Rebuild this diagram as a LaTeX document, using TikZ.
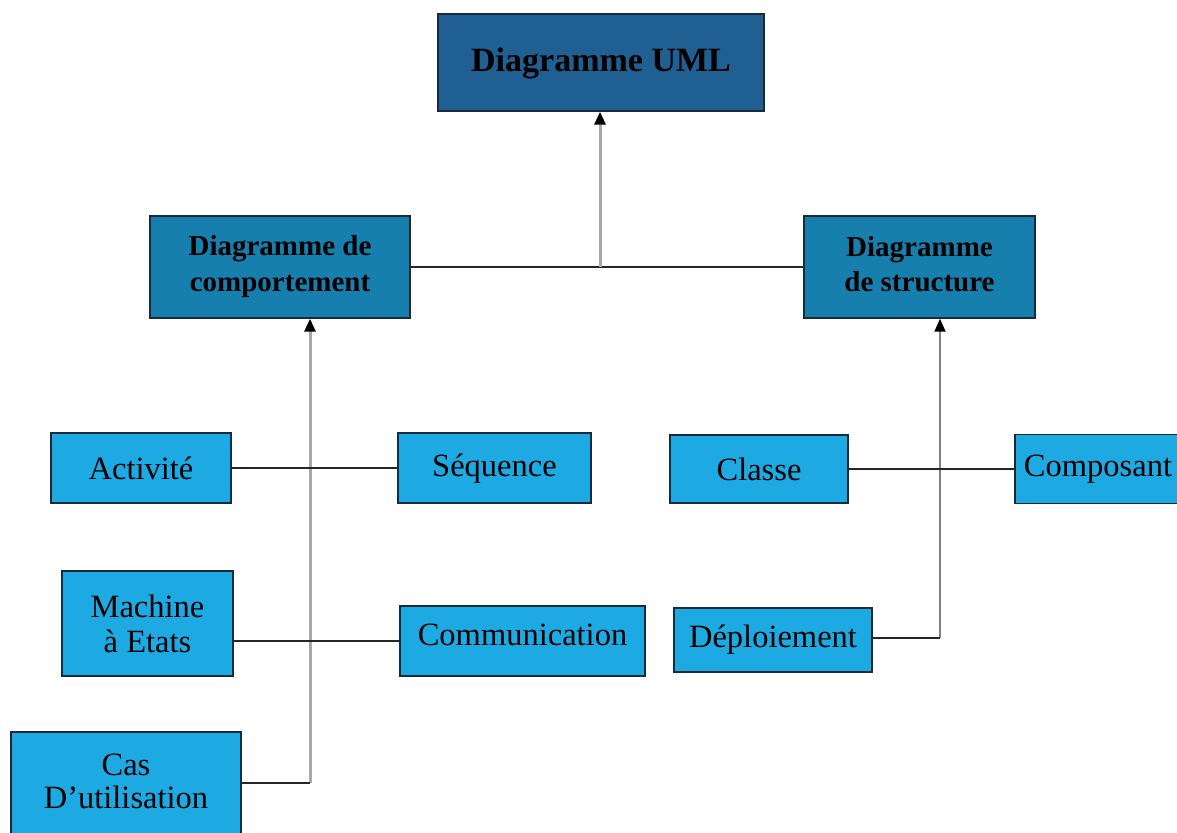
\documentclass[tikz,border=0pt]{standalone}
\usepackage{fontspec}
\setmainfont{Liberation Serif}
\usetikzlibrary{arrows.meta}

\definecolor{umldark}{RGB}{31,95,146}
\definecolor{umlmid}{RGB}{23,127,174}
\definecolor{umllight}{RGB}{29,170,226}
\definecolor{umlborder}{RGB}{26,42,58}
\definecolor{trunkgray}{RGB}{168,168,168}
\definecolor{trunkdark}{RGB}{130,130,130}

\tikzset{
  box/.style={draw=umlborder, line width=1.4pt, rectangle, align=center,
    inner sep=0pt, text=black},
  topbox/.style={box, fill=umldark, font=\fontsize{34}{38}\selectfont\bfseries},
  midbox/.style={box, fill=umlmid, font=\fontsize{29}{36}\selectfont\bfseries},
  leafbox/.style={box, fill=umllight, font=\fontsize{32.5}{35}\selectfont},
  link/.style={draw=black!85, line width=1.3pt},
  uparrow/.style={draw=trunkgray, line width=3pt,
    -{Triangle[width=11pt,length=13pt,color=black]}},
  uparrowthin/.style={draw=trunkdark, line width=1.8pt,
    -{Triangle[width=11pt,length=13pt,color=black]}},
}

\begin{document}
\begin{tikzpicture}[x=1pt,y=-1pt]
  \useasboundingbox (0,0) rectangle (1177,832);
  \clip (0,0) rectangle (1177,832);

  % root and the two families
  \node[topbox, minimum width=326pt, minimum height=97pt, text depth=6pt] (uml) at (601,62.5) {Diagramme UML};
  \node[midbox, minimum width=260pt, minimum height=102pt] (comp) at (280,267) {Diagramme de\\comportement};
  \node[midbox, minimum width=231pt, minimum height=102pt,
        label={[font=\fontsize{29}{35}\selectfont\bfseries, align=center, yshift=3pt]center:Diagramme\\de structure}]
        (struc) at (919.5,267) {};

  % behaviour diagrams
  \node[leafbox, minimum width=180pt, minimum height=70pt] (act) at (141,468) {Activité};
  \node[leafbox, minimum width=193pt, minimum height=70pt, text depth=6pt] (seq) at (494.5,468) {Séquence};
  \node[leafbox, minimum width=171pt, minimum height=105pt] (mach) at (147.5,623.5) {Machine\\à Etats};
  \node[leafbox, minimum width=245pt, minimum height=70pt, text depth=12pt] (comm) at (522.5,641) {Communication};
  \node[leafbox, minimum width=230pt, minimum height=120pt,
        label={[font=\fontsize{32.5}{33}\selectfont, align=center, yshift=11pt]center:Cas\\D’utilisation}]
        (cas) at (126,792) {};

  % structure diagrams
  \node[leafbox, minimum width=178pt, minimum height=68pt] (cls) at (759,469) {Classe};
  \node[leafbox, minimum width=166pt, minimum height=69pt] (compo) at (1098,469) {Composant};
  \node[leafbox, minimum width=198pt, minimum height=64pt] (depl) at (773,640) {Déploiement};

  % junction points of the trunks
  \coordinate (hub) at (600,267);
  \coordinate (lt) at (310,783);
  \coordinate (rt) at (940,638);

  % top level
  \draw[link] (comp.east) -- (struc.west);
  \draw[uparrow] (hub) -- (hub |- uml.south);

  % behaviour trunk
  \draw[uparrow] (lt) -- (lt |- comp.south);
  \draw[link] (lt -| cas.east) -- (lt);
  \draw[link] (act.east) -- (seq.west);
  \draw[link] (comm.west -| mach.east) -- (comm.west);

  % structure trunk
  \draw[uparrowthin] (rt) -- (rt |- struc.south);
  \draw[link] (rt -| depl.east) -- (rt);
  \draw[link] (cls.east) -- (compo.west);
\end{tikzpicture}
\end{document}
